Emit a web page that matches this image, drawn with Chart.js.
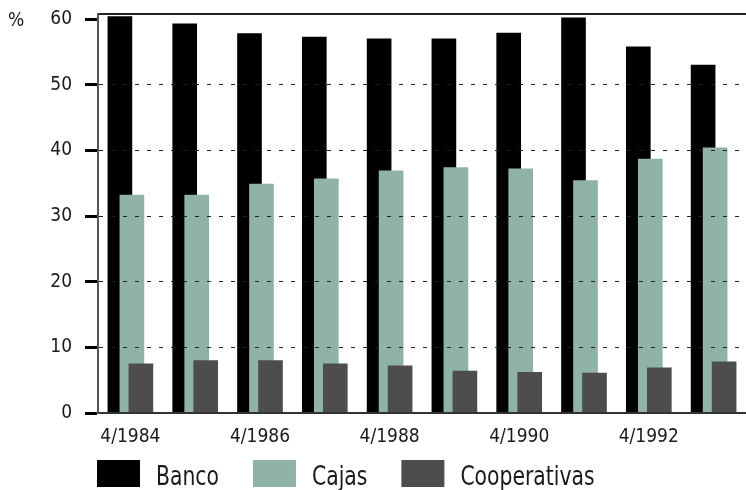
<!DOCTYPE html>
<html>
<head>
<meta charset="utf-8">
<script src="https://cdn.jsdelivr.net/npm/chart.js@4/dist/chart.umd.min.js"></script>
<style>
  html, body { margin: 0; padding: 0; background: #fff; }
  #wrap { width: 746px; height: 490px; }
</style>
</head>
<body>
<div id="wrap"><canvas id="chart" width="746" height="490"></canvas></div>
<script>
// ---- data ----
const categories = ['4/1984', '4/1985', '4/1986', '4/1987', '4/1988',
                    '4/1989', '4/1990', '4/1991', '4/1992', '4/1993'];
const banco        = [60.4, 59.3, 57.8, 57.3, 57.0, 57.0, 57.9, 60.2, 55.8, 53.0];
const cajas        = [33.2, 33.2, 34.9, 35.7, 36.9, 37.4, 37.2, 35.4, 38.7, 40.4];
const cooperativas = [7.5, 8.0, 8.0, 7.5, 7.2, 6.4, 6.2, 6.1, 6.9, 7.8];
const yTicks = [0, 10, 20, 30, 40, 50, 60];

const FONT = "'Liberation Sans Narrow', 'DejaVu Sans Condensed', 'Roboto', sans-serif";
const TEXT = '#1a1a1a';

// bars overlap: each series shifted a few px from the category centre
const barShift = [-10.5, 1.5, 10.5];

const shiftBars = {
  id: 'shiftBars',
  afterDatasetsUpdate(chart) {
    chart.data.datasets.forEach((ds, i) => {
      chart.getDatasetMeta(i).data.forEach(bar => { bar.x += barShift[i]; });
    });
  },
};

// '%' unit mark and the legend row under the axis
const extras = {
  id: 'extras',
  afterDraw(chart) {
    const ctx = chart.ctx;
    ctx.save();
    ctx.fillStyle = TEXT;
    ctx.font = '19px ' + FONT;
    ctx.textBaseline = 'alphabetic';
    ctx.fillText('%', 8, 26);

    // legend text squeezed a little to get the narrow look
    ctx.font = '26px ' + FONT;
    const squeeze = 0.87;
    let x = 97;
    chart.data.datasets.forEach(ds => {
      ctx.fillStyle = ds.backgroundColor;
      ctx.fillRect(x, 460, 43, 27);
      x += 43 + 16;
      ctx.save();
      ctx.translate(x, 485);
      ctx.scale(squeeze, 1);
      ctx.fillStyle = TEXT;
      ctx.fillText(ds.label, 0, 0);
      ctx.restore();
      x += ctx.measureText(ds.label).width * squeeze + 34;
    });
    ctx.restore();
  },
};

const ctx = document.getElementById('chart').getContext('2d');
new Chart(ctx, {
  type: 'bar',
  data: {
    labels: categories,
    datasets: [
      { label: 'Banco', data: banco, backgroundColor: '#000000', order: 3 },
      { label: 'Cajas', data: cajas, backgroundColor: '#8fb3a6', order: 2 },
      { label: 'Cooperativas', data: cooperativas, backgroundColor: '#4d4d4d', order: 1 },
    ],
  },
  options: {
    responsive: false,
    animation: false,
    events: [],
    layout: { padding: { top: 14, right: 0, bottom: 0, left: 0 } },
    datasets: {
      bar: { grouped: false, barThickness: 24, borderWidth: 0 },
    },
    plugins: {
      legend: { display: false },
      tooltip: { enabled: false },
    },
    scales: {
      x: {
        type: 'category',
        position: 'bottom',
        offset: true,
        grid: { display: false },
        border: { display: true, color: '#333', width: 2, z: 1 },
        ticks: {
          autoSkip: false,
          maxRotation: 0,
          padding: 5,
          color: TEXT,
          font: { family: FONT, size: 19 },
          callback: (v, i) => (i % 2 === 0 ? categories[i] : ''),
        },
        afterFit: (scale) => { scale.height = 77; },
      },
      x2: {
        type: 'category',
        position: 'top',
        labels: categories,
        offset: true,
        grid: { display: false },
        border: { display: true, color: '#222', width: 2 },
        ticks: { display: false },
        afterFit: (scale) => { scale.height = 0; },
      },
      y: {
        min: 0,
        max: 60.8,
        afterBuildTicks: (scale) => { scale.ticks = yTicks.map(v => ({ value: v })); },
        afterFit: (scale) => {
          scale.width = 98;
          scale.paddingTop = 0;
          scale.paddingBottom = 0;
        },
        grid: {
          z: 1,
          color: (c) => (c.tick && (c.tick.value === 0 || c.tick.value === 60) ? 'rgba(0,0,0,0)' : '#222'),
          lineWidth: 1,
          drawTicks: true,
          tickLength: 13,
          tickWidth: 3,
          tickColor: '#000',
        },
        border: { display: true, color: '#555', width: 2, dash: [4, 8], z: 1 },
        ticks: {
          padding: 13,
          color: TEXT,
          font: { family: FONT, size: 19 },
        },
      },
    },
  },
  plugins: [shiftBars, extras],
});
</script>
</body>
</html>
